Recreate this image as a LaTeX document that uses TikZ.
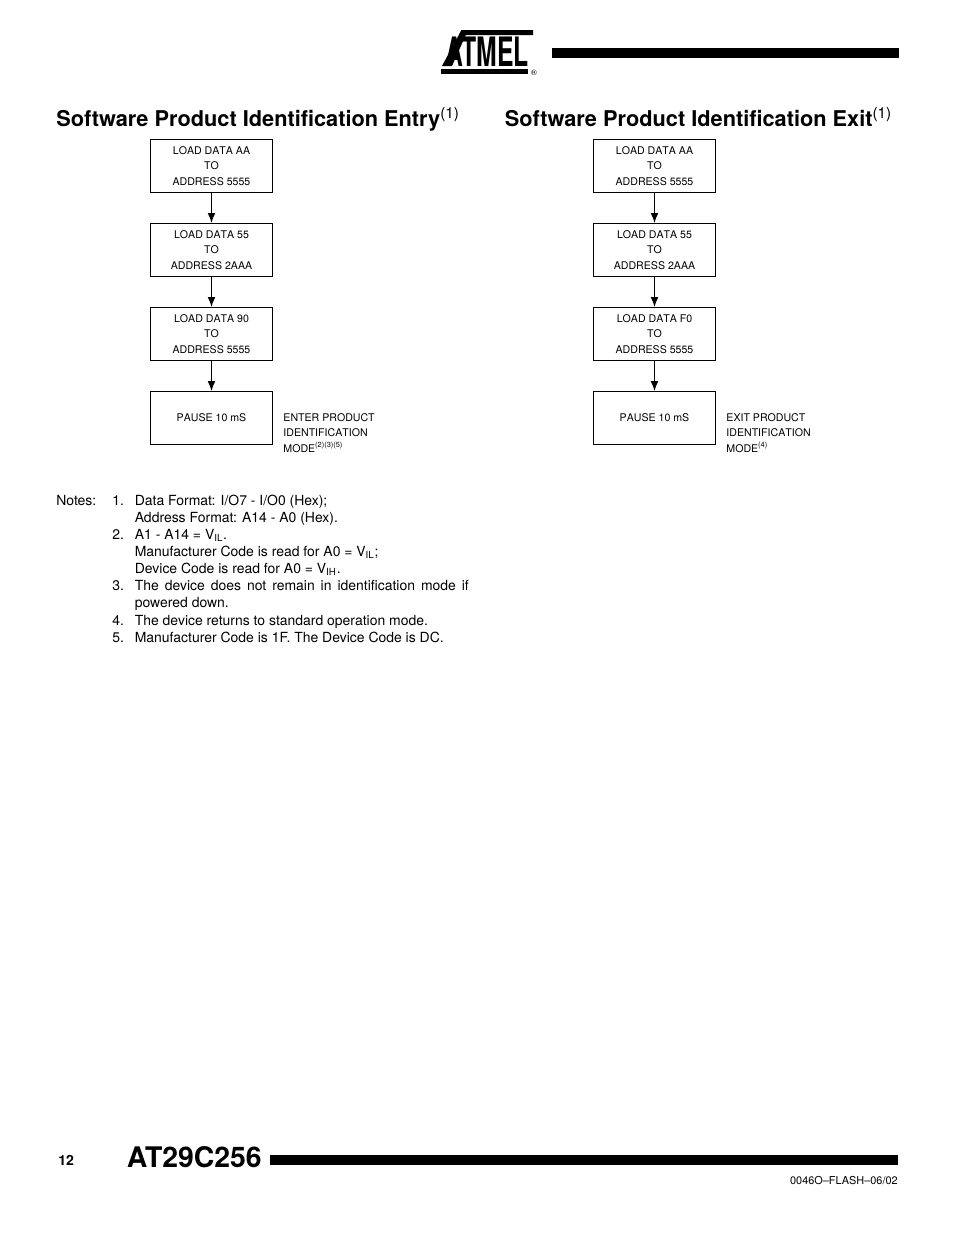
\documentclass[tikz,border=0pt]{standalone}
\usepackage{fontspec}
\setmainfont{TeX Gyre Heros}
\usepackage{xcolor}
\usetikzlibrary{arrows.meta,positioning}
\newcommand{\boxfont}{\fontsize{6.8}{10}\selectfont\addfontfeature{Kerning=Off}}
\tikzset{
  loadbox/.style={draw=black, line width=0.6pt, align=center, inner sep=0pt,
                  minimum width=78.3pt, minimum height=34.1pt, font=\boxfont},
  sidenote/.style={font=\boxfont, align=left, inner sep=0pt},
  heading/.style={font=\fontsize{13.95}{16}\selectfont\bfseries, anchor=base west, inner sep=0pt},
  notetext/.style={font=\fontsize{8.95}{11.4}\selectfont, anchor=base west, inner sep=0pt},
  bar/.style={fill=black, draw=none},
  flow/.style={-{Latex[length=6.4pt,width=5pt]}, line width=0.7pt},
}
\begin{document}
\begin{tikzpicture}[x=0.6415pt, y=-0.6415pt, node distance=19.2pt]
  \useasboundingbox (0,0) rectangle (954,1235);

  % logo and top rule
  \fill[bar] (461.5,30) -- (533,30) -- (533,35) -- (459,35) -- cycle;
  \fill[bar] (461.5,30) -- (468,30) -- (452,66) -- (442,66) -- cycle;
  \fill[bar] (441,69) rectangle (528,74);
  \node[inner sep=0pt, font=\fontsize{26}{26}\selectfont\bfseries] (logo) at (487.5,51.5)
       {\addfontfeature{FakeStretch=0.61}ATMEL};
  \node[inner sep=0pt, font=\fontsize{5}{5}\selectfont] (reg) at (534,72.5) {®};
  \fill[bar] (552,48) rectangle (899,58);

  % headings
  \node[heading] (entryhead) at (56,126.5) {Software Product Identification Entry\textsuperscript{\mdseries(1)}};
  \node[heading] (exithead) at (504.5,126.5) {Software Product Identification Exit\textsuperscript{\mdseries(1)}};

  % entry flow
  \node[loadbox] (a1) at (211.5,166) {LOAD DATA AA\\TO\\ADDRESS 5555};
  \node[loadbox, below=of a1] (a2) {LOAD DATA 55\\TO\\ADDRESS 2AAA};
  \node[loadbox, below=of a2] (a3) {LOAD DATA 90\\TO\\ADDRESS 5555};
  \node[loadbox, below=of a3] (a4) {PAUSE 10 mS};
  \node[sidenote, right=6.5pt of a4, yshift=-9.5pt] (enternote)
       {ENTER PRODUCT\\IDENTIFICATION\\MODE\textsuperscript{(2)(3)(5)}};

  % exit flow
  \node[loadbox] (b1) at (654.5,166) {LOAD DATA AA\\TO\\ADDRESS 5555};
  \node[loadbox, below=of b1] (b2) {LOAD DATA 55\\TO\\ADDRESS 2AAA};
  \node[loadbox, below=of b2] (b3) {LOAD DATA F0\\TO\\ADDRESS 5555};
  \node[loadbox, below=of b3] (b4) {PAUSE 10 mS};
  \node[sidenote, right=6.5pt of b4, yshift=-9.5pt] (exitnote)
       {EXIT PRODUCT\\IDENTIFICATION\\MODE\textsuperscript{(4)}};

  \foreach \a/\b in {a1/a2, a2/a3, a3/a4, b1/b2, b2/b3, b3/b4}
    \draw[flow] (\a) -- (\b);

  % notes
  \node[notetext] (notes) at (56,505) {Notes:};
  \node[notetext] (n1) at (112,505) {1.};
  \node[notetext] (t1) at (134.5,505) {Data Format: I/O7 - I/O0 (Hex);};
  \node[notetext] (t1b) at (134.5,522) {Address Format: A14 - A0 (Hex).};
  \node[notetext] (n2) at (112,539) {2.};
  \node[notetext] (t2) at (134.5,539) {A1 - A14 = V\textsubscript{IL}.};
  \node[notetext] (t2b) at (134.5,556) {Manufacturer Code is read for A0 = V\textsubscript{IL};};
  \node[notetext] (t2c) at (134.5,573) {Device Code is read for A0 = V\textsubscript{IH}.};
  \node[notetext] (n3) at (112,590) {3.};
  \node[notetext, text width=214.3pt, align=justify] (t3) at (134.5,590)
       {The device does not remain in identification mode if powered down.};
  \node[notetext] (n4) at (112,625) {4.};
  \node[notetext] (t4) at (134.5,625) {The device returns to standard operation mode.};
  \node[notetext] (n5) at (112,642) {5.};
  \node[notetext] (t5) at (134.5,642) {Manufacturer Code is 1F. The Device Code is DC.};

  % footer
  \node[inner sep=0pt, anchor=base west, font=\fontsize{9}{9}\selectfont\bfseries] (pagenum) at (58,1165) {12};
  \node[inner sep=0pt, anchor=base west, font=\fontsize{18.2}{18}\selectfont\bfseries] (part) at (126.5,1167) {AT29C256};
  \fill[bar] (270,1155) rectangle (898,1165);
  \node[inner sep=0pt, anchor=base east, font=\fontsize{7}{7}\selectfont] (docnum) at (898,1184) {0046O–FLASH–06/02};
\end{tikzpicture}
\end{document}
